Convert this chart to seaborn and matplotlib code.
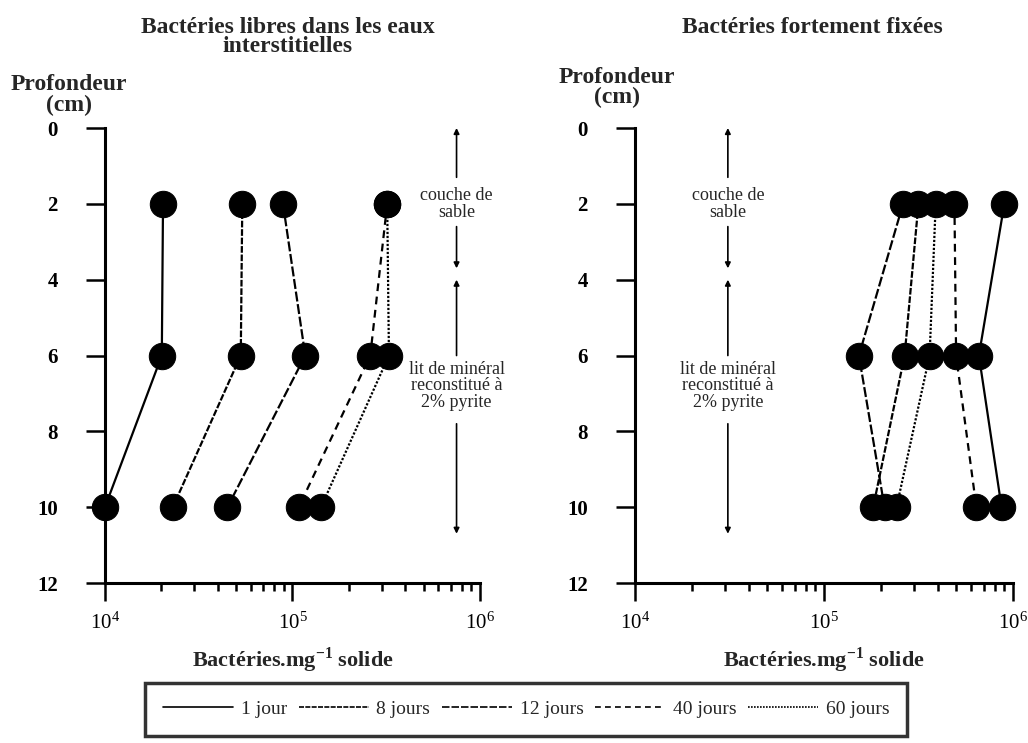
import pandas as pd
import matplotlib
matplotlib.use('Agg')
import matplotlib.pyplot as plt
from matplotlib.lines import Line2D
import seaborn as sns

# values (bacteries / mg solide), depths in cm
depths = [2, 6, 10]
durees = ['1 jour', '8 jours', '12 jours', '40 jours', '60 jours']

libres_1j = [2.04e4, 2.01e4, 1.0e4]
libres_8j = [5.4e4, 5.3e4, 2.3e4]
libres_12j = [8.9e4, 1.17e5, 4.5e4]
libres_40j = [3.2e5, 2.6e5, 1.08e5]
libres_60j = [3.2e5, 3.27e5, 1.42e5]

fixees_1j = [9.0e5, 6.6e5, 8.7e5]
fixees_8j = [3.16e5, 2.67e5, 1.82e5]
fixees_12j = [2.62e5, 1.53e5, 2.09e5]
fixees_40j = [4.9e5, 5.0e5, 6.4e5]
fixees_60j = [3.9e5, 3.62e5, 2.42e5]

depth_ticks = [0, 2, 4, 6, 8, 10, 12]


def make_df(series):
    rows = []
    for d, vals in zip(durees, series):
        for z, v in zip(depths, vals):
            rows.append({'Durée': d, 'Profondeur': z, 'Bactéries': v})
    return pd.DataFrame(rows)


df_libres = make_df([libres_1j, libres_8j, libres_12j, libres_40j, libres_60j])
df_fixees = make_df([fixees_1j, fixees_8j, fixees_12j, fixees_40j, fixees_60j])

sns.set_style('white')
plt.rcParams['font.family'] = ['Liberation Serif', 'DejaVu Serif']
plt.rcParams['mathtext.fontset'] = 'custom'
plt.rcParams['mathtext.rm'] = 'Liberation Serif'
plt.rcParams['mathtext.bf'] = 'Liberation Serif:bold'

dash_styles = {'1 jour': '', '8 jours': (3, 0.8), '12 jours': (4.5, 1.2),
               '40 jours': (3.5, 2.5), '60 jours': (1, 0.8)}
marker_styles = {d: 'o' for d in durees}

fig = plt.figure(figsize=(10.28, 7.43), dpi=100)
ax1 = fig.add_axes([0.1021, 0.2153, 0.3648, 0.6124])
ax2 = fig.add_axes([0.6177, 0.2153, 0.3677, 0.6124])

for ax, df in [(ax1, df_libres), (ax2, df_fixees)]:
    sns.lineplot(data=df, x='Bactéries', y='Profondeur', style='Durée',
                 dashes=dash_styles, markers=marker_styles, color='black',
                 estimator=None, sort=False, markersize=19, linewidth=1.6,
                 markeredgecolor='black', legend=False, ax=ax)
    for line in ax.lines:
        line.set_clip_on(False)
    ax.set_xscale('log')
    ax.set_xlim(1e4, 1e6)
    ax.set_ylim(12, 0)
    ax.set_yticks(depth_ticks)
    ax.set_yticklabels([str(t) for t in depth_ticks], fontsize=15, fontweight='bold')
    ax.set_ylabel('')
    ax.set_xlabel(r'Bactéries.mg$^{\mathbf{-1}}$ solide', fontsize=16,
                  fontweight='bold', labelpad=9)
    for s in ['top', 'right']:
        ax.spines[s].set_visible(False)
    for s in ['left', 'bottom']:
        ax.spines[s].set_linewidth(2.2)
        ax.spines[s].set_color('black')
    ax.tick_params(axis='y', left=True, direction='out', length=14, width=1.8, pad=20)
    ax.tick_params(axis='x', which='major', bottom=True, direction='out', length=13,
                   width=1.8, labelsize=15, pad=8)
    ax.tick_params(axis='x', which='minor', bottom=True, direction='out', length=6,
                   width=1.8)
    ax.tick_params(axis='both', which='both', colors='black')
    ax.set_facecolor('white')


def layer_arrows(ax, x):
    kw = dict(arrowstyle='-|>', color='black', lw=1.2, mutation_scale=8,
              shrinkA=0, shrinkB=0)
    ax.annotate('', xy=(x, 0), xytext=(x, 1.3), arrowprops=kw)
    ax.annotate('', xy=(x, 3.7), xytext=(x, 2.6), arrowprops=kw)
    ax.text(x, 2.0, 'couche de\nsable', ha='center', va='center', fontsize=13,
            linespacing=0.95)
    ax.annotate('', xy=(x, 4.0), xytext=(x, 6.0), arrowprops=kw)
    ax.annotate('', xy=(x, 10.7), xytext=(x, 7.8), arrowprops=kw)
    ax.text(x, 6.8, 'lit de minéral\nreconstitué à\n2% pyrite', ha='center',
            va='center', fontsize=13, linespacing=0.95)


layer_arrows(ax1, 7.5e5)
layer_arrows(ax2, 3.1e4)

fig.text(0.28, 0.95, 'Bactéries libres dans les eaux\ninterstitielles', ha='center',
         va='center', fontsize=17, fontweight='bold', linespacing=0.9)
fig.text(0.79, 0.963, 'Bactéries fortement fixées', ha='center', va='center',
         fontsize=17, fontweight='bold')
fig.text(0.067, 0.872, 'Profondeur\n(cm)', ha='center', va='center', fontsize=17,
         fontweight='bold', linespacing=0.95)
fig.text(0.60, 0.882, 'Profondeur\n(cm)', ha='center', va='center', fontsize=17,
         fontweight='bold', linespacing=0.95)

handles = [Line2D([], [], color='black', lw=1.2,
                  dashes=dash_styles[d] if dash_styles[d] else (None, None))
           for d in durees]
handles[0] = Line2D([], [], color='black', lw=1.2, linestyle='-')
leg = fig.legend(handles, durees, loc='lower center', ncol=5,
                 bbox_to_anchor=(0.512, -0.003), fontsize=14, frameon=True,
                 fancybox=False, handlelength=3.6, handletextpad=0.4,
                 columnspacing=0.6, borderpad=0.9, edgecolor='black')
leg.get_frame().set_linewidth(2.5)
leg.get_frame().set_facecolor('white')

fig.savefig('out.png', dpi=100, facecolor='white')
